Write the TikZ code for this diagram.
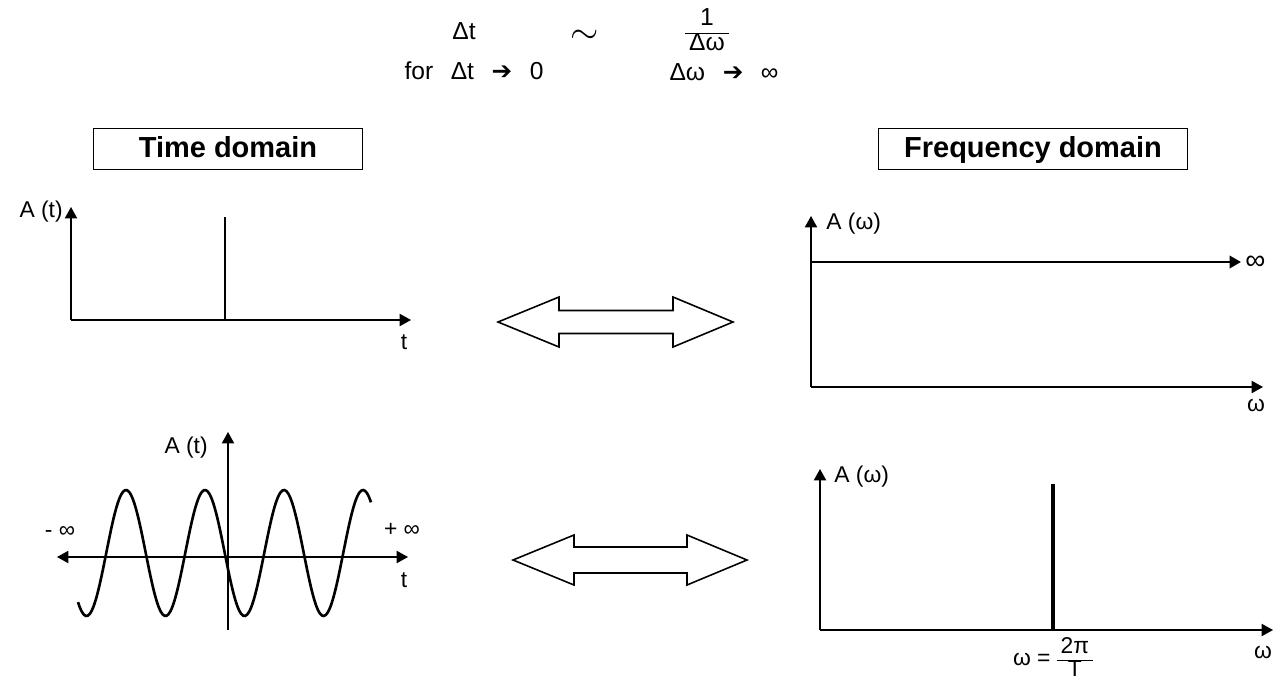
\documentclass[tikz,border=0pt]{standalone}
\usepackage{fontspec}
\setmainfont{Liberation Sans}
\newfontfamily\symfont{DejaVu Sans}
\usetikzlibrary{arrows.meta,positioning}
\newcommand{\fracbox}[2]{\ensuremath{\vcenter{\hbox{\renewcommand\arraystretch{0.85}\begin{tabular}{@{\,}c@{\,}}#1\\\hline #2\end{tabular}}}}}
\newcommand{\tends}{\hspace{10pt}{\symfont ➔}\hspace{10pt}}

\begin{document}
\begin{tikzpicture}[x=0.02cm,y=-0.02cm,
  >={Triangle[length=6.5pt,width=7pt]},
  axis/.style={line width=0.7pt,->},
  signal/.style={line width=1.5pt},
  spike/.style={line width=1.3pt},
  thickspike/.style={line width=2.2pt},
  titlebox/.style={draw,line width=0.8pt,minimum height=0.82cm,inner sep=0pt,
                   text height=1.9ex,text depth=0pt,
                   font=\fontsize{16.5}{18}\selectfont\bfseries},
  lbl/.style={font=\fontsize{13}{15}\selectfont,inner sep=0pt},
  bigarrow/.style={line width=0.9pt,fill=white}
]
\useasboundingbox (0,0) rectangle (1281,683);

% heading: uncertainty relation
\node[lbl,font=\fontsize{14}{16}\selectfont] (dt) at (464,31) {Δt};
\node[lbl,font=\fontsize{22}{22}\selectfont] (sim) at (585,37) {$\sim$};
\node[lbl,font=\fontsize{14}{16}\selectfont] (inv) at (707,33) {\fracbox{1}{Δω}};
\node[lbl,font=\fontsize{14}{16}\selectfont] (dtlim) at (474,71) {for\hspace{10pt}Δt\tends 0};
\node[lbl,font=\fontsize{14}{16}\selectfont] (dwlim) at (724,72) {Δω\tends ∞};

% titles
\node[titlebox,minimum width=5.38cm] (time) at (228,149) {Time domain};
\node[titlebox,minimum width=6.18cm] (freq) at (1033,149) {Frequency domain};

% impulse in time
\coordinate (o1) at (71,320);
\coordinate (y1) at (71,207);
\coordinate (x1) at (411,320);
\coordinate (s1) at (225,217);
\coordinate (b1) at (225,320);
\draw[axis] (o1) -- (y1);
\draw[axis] (o1) -- (x1);
\draw[spike] (b1) -- (s1);
\node[lbl,anchor=east] (a1) at (63,212) {A (t)};
\node[lbl] (t1) at (404,342) {t};

% flat spectrum
\coordinate (o2) at (811,387);
\coordinate (y2) at (811,216);
\coordinate (x2) at (1263,387);
\coordinate (f2) at (811,262);
\coordinate (e2) at (1241,262);
\draw[axis] (o2) -- (y2);
\draw[axis] (o2) -- (x2);
\draw[signal,->] (f2) -- (e2);
\node[lbl,anchor=west] (a2) at (826,224) {A (ω)};
\node[lbl,anchor=west,font=\fontsize{16}{16}\selectfont] (inf2) at (1245,263) {∞};
\node[lbl] (w2) at (1256,405) {ω};

% endless sine
\coordinate (b3) at (228,630);
\coordinate (y3) at (228,432);
\coordinate (l3) at (57,557);
\coordinate (r3) at (408,557);
\draw[axis] (b3) -- (y3);
\draw[axis,<->] (l3) -- (r3);
\draw[signal,smooth,domain=78:371,samples=150] plot (\x,{553-63*cos(4.557*(\x-205))});
\node[lbl,anchor=east] (a3) at (208,448) {A (t)};
\node[lbl] (m3) at (60,532) {- ∞};
\node[lbl] (p3) at (402,530) {+ ∞};
\node[lbl] (t3) at (404,580) {t};

% single line spectrum
\coordinate (o4) at (820,630);
\coordinate (y4) at (820,469);
\coordinate (x4) at (1273,630);
\coordinate (s4) at (1053,484);
\coordinate (b4) at (1053,630);
\draw[axis] (o4) -- (y4);
\draw[axis] (o4) -- (x4);
\draw[thickspike] (b4) -- (s4);
\node[lbl,anchor=west] (a4) at (834,477) {A (ω)};
\node[lbl] (w4) at (1053,660) {ω = \fracbox{2π}{T}};
\node[lbl] (wx4) at (1263,652) {ω};

% transform arrows
\foreach \xa/\xb/\yc/\sh in {498/733/322/11.5, 513/747/560/13}
  \draw[bigarrow] (\xa,\yc) -- (\xa+61,\yc-25) -- (\xa+61,\yc-\sh) -- (\xb-60,\yc-\sh)
    -- (\xb-60,\yc-25) -- (\xb,\yc) -- (\xb-60,\yc+25) -- (\xb-60,\yc+\sh)
    -- (\xa+61,\yc+\sh) -- (\xa+61,\yc+25) -- cycle;
\end{tikzpicture}
\end{document}
